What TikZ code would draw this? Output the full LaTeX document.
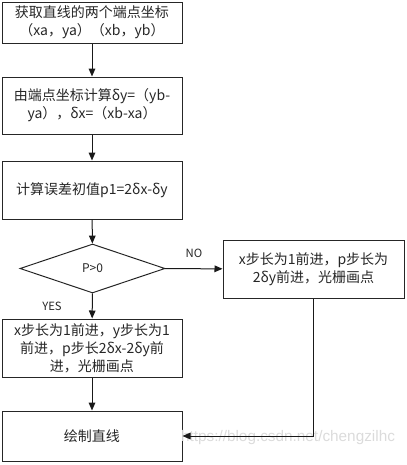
\documentclass[tikz,border=0pt]{standalone}
\usepackage{fontspec}
\setmainfont{Noto Sans CJK SC}
\newfontfamily\wmfont{Liberation Sans}
\usetikzlibrary{arrows.meta,shapes.geometric}
\begin{document}
\begin{tikzpicture}[x=0.75pt,y=-0.75pt,
  box/.style={draw=black!85,line width=0.75pt,rectangle,inner sep=0pt,align=center,
    font=\fontsize{10.5}{13.5}\selectfont,text=black!85},
  lbl/.style={font=\fontsize{8.5}{10}\selectfont,text=black!85,inner sep=0pt},
  arr/.style={draw=black!90,line width=0.75pt,-{Triangle[width=5pt,length=6pt]}}]
\useasboundingbox (0,0) rectangle (407,465);
\node[box,minimum width=135pt,minimum height=30.75pt] (b1) at (92,22.5) {获取直线的两个端点坐标\\（xa，ya）（xb，yb）};
\node[box,minimum width=135pt,minimum height=42.75pt] (b2) at (92,105.5) {由端点坐标计算δy=（yb-\\ya），δx=（xb-xa）};
\node[box,minimum width=135pt,minimum height=43.5pt] (b3) at (92,190) {计算误差初值p1=2δx-δy};
\node[draw=black!85,line width=0.75pt,diamond,inner sep=0pt,minimum width=108.75pt,minimum height=36.75pt,
  font=\fontsize{9}{11}\selectfont,text=black!85] (d) at (92.5,268.5) {P>0};
\node[box,minimum width=135.75pt,minimum height=43.5pt] (rb) at (313.5,269) {x步长为1前进，p步长为\\2δy前进，光栅画点};
\node[box,minimum width=135pt,minimum height=43.5pt] (b4) at (92,348) {x步长为1前进，y步长为1\\前进，p步长2δx-2δy前\\进，光栅画点};
\node[box,minimum width=135pt,minimum height=37.5pt] (b5) at (92,436) {绘制直线};
\node[lbl] (yes) at (52,306) {YES};
\node[lbl] (no) at (194,253) {NO};
\node[font=\wmfont\fontsize{11.5}{13}\selectfont,text=black!14,inner sep=0pt] (wm) at (288,438) {https://blog.csdn.net/chengzilhc};
\draw[arr] (b1) -- (b2);
\draw[arr] (b2) -- (b3);
\draw[arr] (b3) -- (d);
\draw[arr] (d) -- (rb);
\draw[arr] (d) -- (b4);
\draw[arr] (b4) -- (b5);
\draw[arr] (rb.south) |- (b5.east);
\end{tikzpicture}
\end{document}
